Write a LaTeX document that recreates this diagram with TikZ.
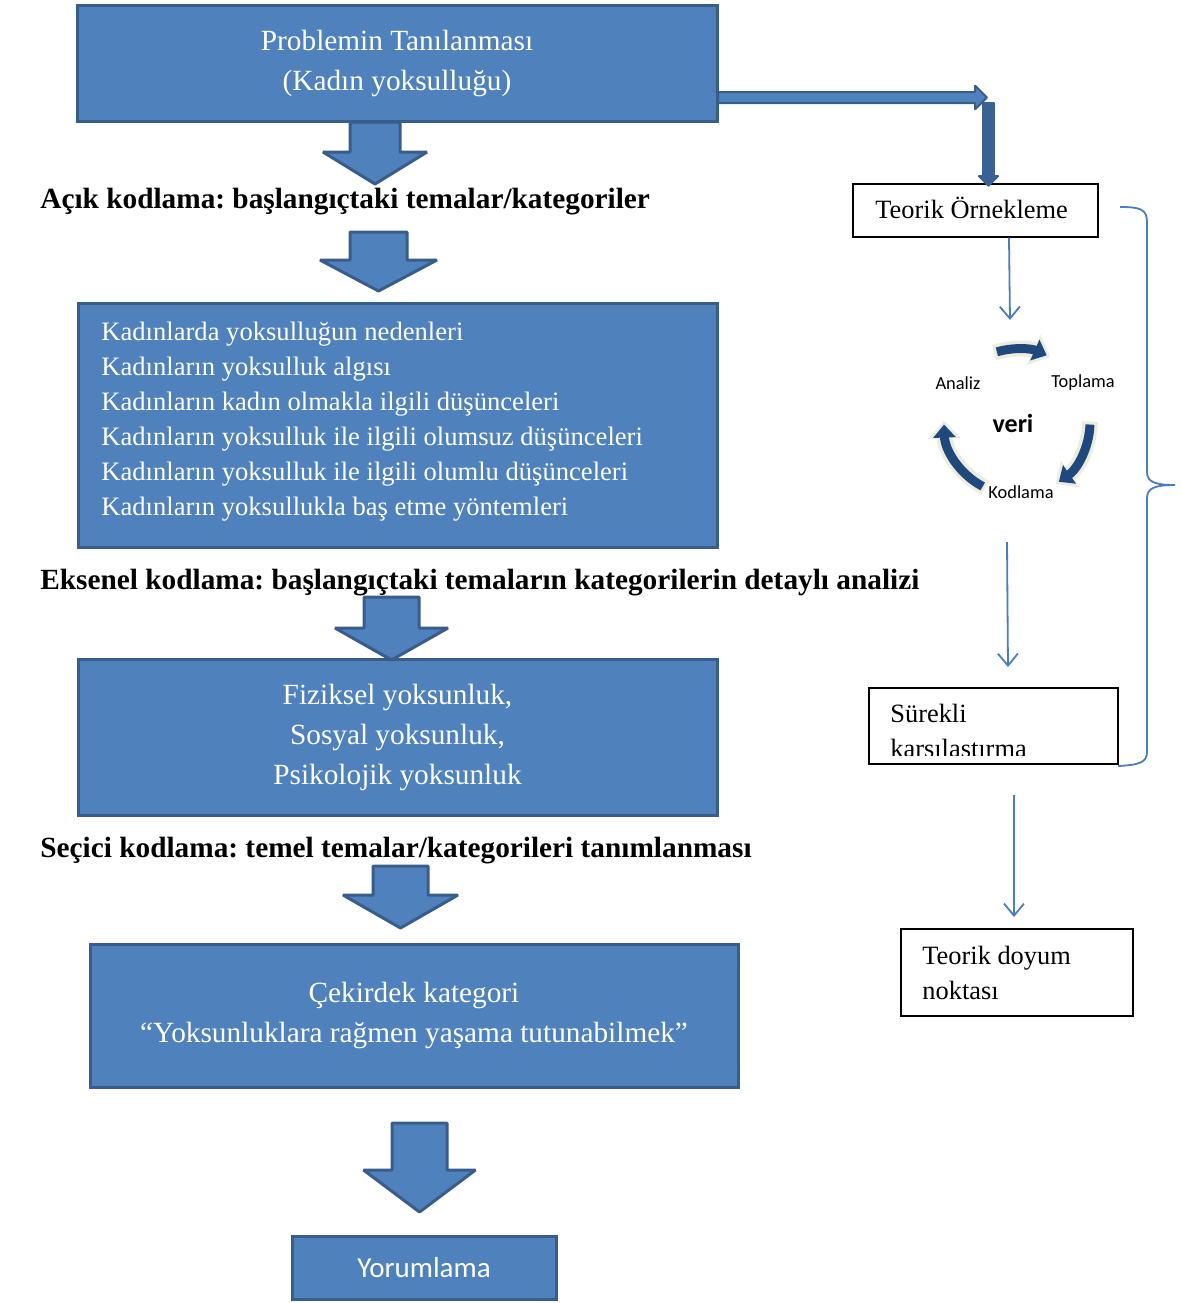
\documentclass[tikz,border=0pt]{standalone}
\usepackage{fontspec}
\setmainfont{Liberation Serif}
\newfontfamily\sansf{Carlito}
\usetikzlibrary{arrows.meta}
\frenchspacing
\definecolor{boxfill}{HTML}{4F81BD}
\definecolor{boxline}{HTML}{385D8A}
\definecolor{vdark}{HTML}{3A6193}
\definecolor{thinblue}{HTML}{4A7EBB}
\definecolor{cycblue}{HTML}{1F497D}
\definecolor{cycbeige}{HTML}{EEECE1}
\newcommand\blockarrow[6]{%
  \draw[barrowshape] ({#1-#3},#2) -- ({#1+#3},#2) -- ({#1+#3},#5) -- ({#1+#4},#5)
    -- (#1,#6) -- ({#1-#4},#5) -- ({#1-#3},#5) -- cycle;}
\begin{document}
\frenchspacing
\begin{tikzpicture}[x=0.5pt,y=-0.5pt,
  bluebox/.style={draw=boxline, fill=boxfill, line width=1.5pt, text=white, inner sep=0pt},
  plainbox/.style={draw=black, line width=0.7pt, inner sep=0pt},
  barrowshape/.style={draw=boxline, fill=boxfill, line width=1.5pt, line join=bevel},
  thinarrow/.style={draw=thinblue, line width=0.9pt, -{Straight Barb[length=6pt,width=10pt]}},
  bigtxt/.style={font=\fontsize{14.65}{20}\selectfont},
  headtxt/.style={font=\bfseries\fontsize{14.65}{18}\selectfont, inner sep=0pt, anchor=base west},
  righttxt/.style={font=\fontsize{13.2}{17.5}\selectfont, inner sep=0pt, anchor=base west},
  cyclbl/.style={font=\sansf\fontsize{9.2}{11}\selectfont, inner sep=0pt},
  cycunder/.style={draw=cycbeige, line width=8pt, -{Triangle[length=9pt,width=16pt]}, shorten >=-2pt, shorten <=-1.5pt},
  cycarrow/.style={draw=cycblue, line width=4.5pt, -{Triangle[length=6.5pt,width=11pt]}}
]
\useasboundingbox (0,0) rectangle (1181,1303);

% ---------- left column boxes ----------
\node[bluebox, bigtxt, align=center, minimum width=320pt, minimum height=58pt] (b1) at (397,63)
  {Problemin Tanılanması\\(Kadın yoksulluğu)};

\node[headtxt] (h1) at (40,208.5) {Açık kodlama: başlangıçtaki temalar/kategoriler};

\node[bluebox, minimum width=319.5pt, minimum height=122pt] (b2) at (397.5,425.5) {};
\node[anchor=west, align=left, text=white, inner sep=0pt, font=\fontsize{13.3}{17.5}\selectfont] (b2t) at (101,421.7)
  {Kadınlarda yoksulluğun nedenleri\\
   Kadınların yoksulluk algısı\\
   Kadınların kadın olmakla ilgili düşünceleri\\
   Kadınların yoksulluk ile ilgili olumsuz düşünceleri\\
   Kadınların yoksulluk ile ilgili olumlu düşünceleri\\
   Kadınların yoksullukla baş etme yöntemleri};

\node[headtxt] (h2) at (40,589.5) {Eksenel kodlama: başlangıçtaki temaların kategorilerin detaylı analizi};

\node[bluebox, bigtxt, align=center, minimum width=319.5pt, minimum height=78pt] (b3) at (397.5,737)
  {Fiziksel yoksunluk,\\Sosyal yoksunluk,\\Psikolojik yoksunluk};

\node[headtxt] (h3) at (40,857.5) {Seçici kodlama: temel temalar/kategorileri tanımlanması};

\node[bluebox, bigtxt, align=center, minimum width=324pt, minimum height=71.5pt] (b4) at (414,1015.5)
  {Çekirdek kategori\\“Yoksunluklara rağmen yaşama tutunabilmek”};

\node[bluebox, minimum width=132pt, minimum height=31.5pt, font=\sansf\fontsize{14.5}{17}\selectfont] (b5) at (424,1267.5)
  {Yorumlama};

% ---------- block arrows between left boxes ----------
\blockarrow{375}{122}{25}{52}{152}{184}
\blockarrow{378.5}{232}{28.5}{58.5}{260}{291}
\blockarrow{391.5}{597}{27.5}{56.5}{628}{660}
\blockarrow{400.5}{866}{27.5}{57.5}{895}{928}
\blockarrow{419.5}{1123}{27.5}{56}{1170}{1212}

% ---------- right column ----------
\node[plainbox, minimum width=122.5pt, minimum height=26.5pt] (t1) at (975.5,210.5) {};
\node[righttxt] (t1t) at (875,218) {Teorik Örnekleme};

\node[plainbox, minimum width=124.5pt, minimum height=38pt] (t2) at (993.5,726) {};
\begin{scope}
  \clip (870,689) rectangle (1117,755);
  \node[righttxt] (t2a) at (890,722) {Sürekli};
  \node[righttxt] (t2b) at (890,757) {karşılaştırma};
\end{scope}

\node[plainbox, minimum width=116pt, minimum height=43.5pt] (t3) at (1017,972.5) {};
\node[righttxt] (t3a) at (922,964) {Teorik doyum};
\node[righttxt] (t3b) at (922,999) {noktası};

% thick arrow from first box to Teorik Örnekleme
\draw[draw=boxline, fill=boxfill, line width=1pt, line join=bevel]
  (718,92) -- (975,92) -- (975,85.5) -- (987,97.5) -- (975,109.5) -- (975,103) -- (718,103) -- cycle;
\draw[draw=vdark, fill=vdark, line width=0.8pt, line join=bevel]
  (983,103) -- (994,103) -- (994,176) -- (998.5,176) -- (988.5,186) -- (978.5,176) -- (983,176) -- cycle;

% thin arrows
\coordinate (a1e) at (1010,320);
\coordinate (a2s) at (1007,542);
\coordinate (a2e) at (1008,667);
\coordinate (a3s) at (1014,795);
\coordinate (a3e) at (1014,917);
\draw[thinarrow] ([xshift=16.75pt]t1.south) -- (a1e);
\draw[thinarrow] (a2s) -- (a2e);
\draw[thinarrow] (a3s) -- (a3e);

% cycle
\coordinate (cc) at (1017,422);
\draw[cycunder] (cc) ++(-106:73) arc[start angle=-106, end angle=-66, radius=73];
\draw[cycunder] (cc) ++(2:73) arc[start angle=2, end angle=55, radius=73];
\draw[cycunder] (cc) ++(118:73) arc[start angle=118, end angle=178, radius=73];
\draw[cycarrow] (cc) ++(-106:73) arc[start angle=-106, end angle=-66, radius=73];
\draw[cycarrow] (cc) ++(2:73) arc[start angle=2, end angle=55, radius=73];
\draw[cycarrow] (cc) ++(118:73) arc[start angle=118, end angle=178, radius=73];
\node[cyclbl] (an) at (958,383) {Analiz};
\node[cyclbl] (to) at (1083,383) {Toplama};
\node[cyclbl] (ko) at (1021,492) {Kodlama};
\node[font=\sansf\bfseries\fontsize{13}{15}\selectfont, inner sep=0pt] (veri) at (1013,423) {veri};

% brace
\draw[thinblue, line width=0.9pt]
  (1120,207) .. controls (1140,207) and (1147,209) .. (1147,222) -- (1147,472)
  .. controls (1147,482) and (1155,485) .. (1175,485)
  .. controls (1155,485) and (1147,488) .. (1147,498) -- (1147,752)
  .. controls (1147,762) and (1140,765) .. (1118,766);
\end{tikzpicture}
\end{document}
